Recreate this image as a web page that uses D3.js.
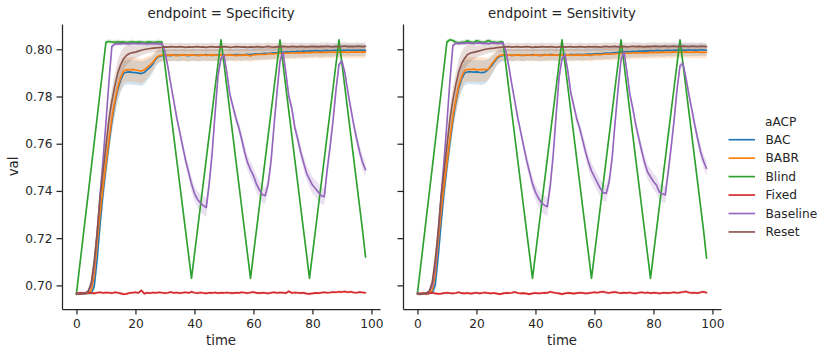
<!DOCTYPE html>
<html lang="en">
<head>
<meta charset="utf-8">
<title>aACP endpoints</title>
<script src="https://cdnjs.cloudflare.com/ajax/libs/d3/7.8.5/d3.min.js"></script>
<style>
  body { margin: 0; background: white; }
  svg { display: block; font-family: "DejaVu Sans", sans-serif; background: white; }
  .axis path, .axis line { stroke: #262626; stroke-width: 1.25; }
  .axis text { fill: #262626; font-size: 12.2px; font-family: "DejaVu Sans", sans-serif; }
  .label { fill: #262626; font-size: 13.3px; }
  .legend text { fill: #262626; font-size: 12.2px; }
</style>
</head>
<body>
<script>
// categories, ticks
var aACP = ["BAC", "BABR", "Blind", "Fixed", "Baseline", "Reset"];
var colors = ["#1f77b4", "#ff7f0e", "#2ca02c", "#d62728", "#9467bd", "#8c564b"];
var endpoints = ["Specificity", "Sensitivity"];
var time = d3.range(0, 99); // time steps 0..98
var xTicks = [0, 20, 40, 60, 80, 100];
var yTicks = [0.70, 0.72, 0.74, 0.76, 0.78, 0.80];

// ---- endpoint = Specificity ----
var specBAC = [
  0.6965,0.6963,0.6964,0.6965,0.6966,0.6968,0.6995,0.7110,0.7260,0.7390,
  0.7500,0.7600,0.7695,0.7770,0.7830,0.7870,0.7898,0.7903,0.7904,0.7902,
  0.7901,0.7899,0.7897,0.7902,0.7914,0.7924,0.7940,0.7960,0.7970,0.7973,
  0.7974,0.7975,0.7973,0.7976,0.7975,0.7974,0.7976,0.7975,0.7973,0.7975,
  0.7976,0.7975,0.7974,0.7976,0.7977,0.7975,0.7974,0.7976,0.7975,0.7977,
  0.7976,0.7975,0.7977,0.7976,0.7978,0.7977,0.7976,0.7978,0.7979,0.7978,
  0.7980,0.7981,0.7980,0.7982,0.7983,0.7982,0.7984,0.7985,0.7986,0.7988,
  0.7987,0.7989,0.7988,0.7990,0.7989,0.7991,0.7990,0.7992,0.7991,0.7993,
  0.7992,0.7994,0.7993,0.7992,0.7994,0.7995,0.7993,0.7995,0.7996,0.7994,
  0.7996,0.7995,0.7997,0.7995,0.7996,0.7995,0.7997,0.7996,0.7995];
var specBABR = [
  0.6965,0.6965,0.6964,0.6966,0.6966,0.6978,0.7040,0.7175,0.7305,0.7415,
  0.7515,0.7615,0.7710,0.7780,0.7840,0.7880,0.7908,0.7914,0.7913,0.7915,
  0.7912,0.7910,0.7907,0.7913,0.7924,0.7934,0.7946,0.7964,0.7973,0.7975,
  0.7975,0.7974,0.7976,0.7975,0.7973,0.7975,0.7976,0.7974,0.7975,0.7976,
  0.7975,0.7973,0.7975,0.7976,0.7974,0.7975,0.7976,0.7975,0.7974,0.7976,
  0.7975,0.7974,0.7976,0.7975,0.7973,0.7975,0.7974,0.7976,0.7975,0.7972,
  0.7976,0.7977,0.7978,0.7979,0.7978,0.7980,0.7981,0.7980,0.7982,0.7984,
  0.7983,0.7984,0.7983,0.7985,0.7984,0.7985,0.7986,0.7985,0.7986,0.7987,
  0.7986,0.7988,0.7987,0.7986,0.7988,0.7987,0.7988,0.7989,0.7987,0.7988,
  0.7989,0.7988,0.7987,0.7989,0.7988,0.7989,0.7988,0.7989,0.7988];
var specBlind = [
  0.6965,0.7072,0.7178,0.7285,0.7390,0.7497,0.7603,0.7710,0.7817,0.7923,
  0.8030,0.8033,0.8031,0.8029,0.8032,0.8030,0.8031,0.8028,0.8030,0.8032,
  0.8029,0.8031,0.8030,0.8028,0.8030,0.8031,0.8029,0.8030,0.8032,0.8030,
  0.7930,0.7830,0.7730,0.7630,0.7530,0.7430,0.7330,0.7230,0.7130,0.7030,
  0.7131,0.7232,0.7333,0.7434,0.7535,0.7636,0.7737,0.7838,0.7939,0.8040,
  0.7939,0.7838,0.7737,0.7636,0.7535,0.7434,0.7333,0.7232,0.7131,0.7030,
  0.7131,0.7232,0.7333,0.7434,0.7535,0.7636,0.7737,0.7838,0.7939,0.8040,
  0.7939,0.7838,0.7737,0.7636,0.7535,0.7434,0.7333,0.7232,0.7131,0.7030,
  0.7131,0.7232,0.7333,0.7434,0.7535,0.7636,0.7737,0.7838,0.7939,0.8040,
  0.7939,0.7838,0.7737,0.7636,0.7535,0.7434,0.7333,0.7232,0.7120];
var specFixed = [
  0.6966,0.6968,0.6969,0.6967,0.6970,0.6968,0.6966,0.6969,0.6971,0.6968,
  0.6970,0.6969,0.6967,0.6971,0.6969,0.6966,0.6963,0.6964,0.6968,0.6969,
  0.6971,0.6968,0.6979,0.6965,0.6969,0.6967,0.6970,0.6968,0.6971,0.6969,
  0.6967,0.6969,0.6972,0.6968,0.6970,0.6967,0.6969,0.6971,0.6968,0.6973,
  0.6969,0.6967,0.6970,0.6968,0.6966,0.6969,0.6968,0.6970,0.6967,0.6969,
  0.6968,0.6970,0.6968,0.6967,0.6969,0.6968,0.6971,0.6969,0.6967,0.6970,
  0.6972,0.6968,0.6967,0.6969,0.6968,0.6966,0.6969,0.6971,0.6968,0.6970,
  0.6969,0.6967,0.6975,0.6968,0.6970,0.6969,0.6967,0.6969,0.6965,0.6964,
  0.6966,0.6968,0.6967,0.6969,0.6971,0.6969,0.6970,0.6972,0.6971,0.6973,
  0.6972,0.6974,0.6971,0.6973,0.6970,0.6969,0.6972,0.6970,0.6969];
var specBaseline = [
  0.6965,0.6964,0.6966,0.6968,0.6975,0.7000,0.7080,0.7220,0.7380,0.7530,
  0.7690,0.7860,0.8012,0.8022,0.8024,0.8023,0.8025,0.8024,0.8023,0.8025,
  0.8024,0.8023,0.8025,0.8024,0.8023,0.8024,0.8025,0.8024,0.8023,0.8024,
  0.7990,0.7925,0.7850,0.7780,0.7710,0.7650,0.7590,0.7530,0.7480,0.7430,
  0.7390,0.7365,0.7350,0.7338,0.7330,0.7430,0.7560,0.7730,0.7890,0.7962,
  0.7975,0.7900,0.7810,0.7760,0.7710,0.7670,0.7620,0.7565,0.7520,0.7490,
  0.7465,0.7430,0.7405,0.7385,0.7380,0.7430,0.7530,0.7680,0.7820,0.7950,
  0.7990,0.7900,0.7800,0.7750,0.7670,0.7620,0.7565,0.7520,0.7475,0.7450,
  0.7425,0.7410,0.7395,0.7380,0.7375,0.7490,0.7590,0.7700,0.7830,0.7935,
  0.7950,0.7900,0.7820,0.7750,0.7680,0.7620,0.7565,0.7520,0.7490];
var specReset = [
  0.6962,0.6963,0.6965,0.6966,0.6975,0.7010,0.7100,0.7220,0.7370,0.7480,
  0.7590,0.7700,0.7780,0.7845,0.7900,0.7935,0.7960,0.7975,0.7982,0.7986,
  0.7988,0.7992,0.7996,0.7999,0.8001,0.8003,0.8005,0.8006,0.8007,0.8008,
  0.8010,0.8009,0.8011,0.8010,0.8009,0.8011,0.8010,0.8008,0.8010,0.8009,
  0.8010,0.8011,0.8009,0.8010,0.8008,0.8010,0.8011,0.8009,0.8010,0.8009,
  0.8011,0.8010,0.8008,0.8009,0.8011,0.8010,0.8009,0.8010,0.8008,0.8010,
  0.8009,0.8011,0.8010,0.8009,0.8010,0.8012,0.8010,0.8009,0.8011,0.8010,
  0.8012,0.8011,0.8010,0.8012,0.8011,0.8010,0.8012,0.8011,0.8010,0.8011,
  0.8012,0.8011,0.8010,0.8012,0.8011,0.8013,0.8011,0.8010,0.8012,0.8011,
  0.8012,0.8014,0.8011,0.8012,0.8011,0.8013,0.8012,0.8011,0.8012];

// ---- endpoint = Sensitivity ----
var sensBAC = [
  0.6966,0.6964,0.6963,0.6965,0.6966,0.6970,0.7000,0.7120,0.7265,0.7395,
  0.7505,0.7605,0.7700,0.7775,0.7835,0.7875,0.7900,0.7904,0.7905,0.7903,
  0.7904,0.7902,0.7901,0.7904,0.7915,0.7928,0.7945,0.7962,0.7971,0.7974,
  0.7975,0.7976,0.7974,0.7975,0.7977,0.7975,0.7974,0.7976,0.7975,0.7977,
  0.7976,0.7974,0.7975,0.7977,0.7976,0.7978,0.7977,0.7975,0.7976,0.7978,
  0.7977,0.7976,0.7978,0.7977,0.7979,0.7978,0.7977,0.7979,0.7980,0.7979,
  0.7981,0.7982,0.7981,0.7983,0.7984,0.7983,0.7985,0.7986,0.7987,0.7989,
  0.7988,0.7990,0.7989,0.7991,0.7990,0.7992,0.7991,0.7993,0.7992,0.7994,
  0.7993,0.7995,0.7994,0.7993,0.7995,0.7996,0.7994,0.7996,0.7997,0.7995,
  0.7997,0.7996,0.7998,0.7996,0.7997,0.7996,0.7998,0.7997,0.7996];
var sensBABR = [
  0.6965,0.6966,0.6964,0.6965,0.6967,0.6980,0.7045,0.7180,0.7310,0.7420,
  0.7520,0.7620,0.7715,0.7785,0.7845,0.7885,0.7910,0.7915,0.7914,0.7916,
  0.7914,0.7913,0.7915,0.7914,0.7916,0.7935,0.7950,0.7966,0.7974,0.7976,
  0.7975,0.7976,0.7974,0.7975,0.7976,0.7974,0.7975,0.7977,0.7975,0.7974,
  0.7976,0.7975,0.7973,0.7975,0.7976,0.7974,0.7976,0.7975,0.7974,0.7976,
  0.7975,0.7976,0.7974,0.7975,0.7976,0.7975,0.7974,0.7976,0.7975,0.7974,
  0.7977,0.7978,0.7977,0.7979,0.7980,0.7979,0.7981,0.7980,0.7982,0.7983,
  0.7982,0.7984,0.7983,0.7984,0.7985,0.7984,0.7985,0.7986,0.7985,0.7987,
  0.7986,0.7987,0.7986,0.7988,0.7987,0.7988,0.7987,0.7989,0.7988,0.7987,
  0.7988,0.7989,0.7988,0.7987,0.7989,0.7988,0.7987,0.7988,0.7987];
var sensBlind = [
  0.6966,0.7072,0.7178,0.7285,0.7391,0.7497,0.7604,0.7710,0.7817,0.7923,
  0.8032,0.8040,0.8037,0.8030,0.8027,0.8029,0.8031,0.8036,0.8030,0.8028,
  0.8036,0.8033,0.8029,0.8031,0.8037,0.8032,0.8030,0.8028,0.8031,0.8030,
  0.7930,0.7830,0.7730,0.7630,0.7530,0.7430,0.7330,0.7230,0.7130,0.7030,
  0.7131,0.7232,0.7333,0.7434,0.7535,0.7636,0.7737,0.7838,0.7939,0.8040,
  0.7939,0.7838,0.7737,0.7636,0.7535,0.7434,0.7333,0.7232,0.7131,0.7030,
  0.7131,0.7232,0.7333,0.7434,0.7535,0.7636,0.7737,0.7838,0.7939,0.8040,
  0.7939,0.7838,0.7737,0.7636,0.7535,0.7434,0.7333,0.7232,0.7131,0.7030,
  0.7131,0.7232,0.7333,0.7434,0.7535,0.7636,0.7737,0.7838,0.7939,0.8040,
  0.7939,0.7838,0.7737,0.7636,0.7535,0.7434,0.7333,0.7232,0.7115];
var sensFixed = [
  0.6966,0.6965,0.6968,0.6964,0.6967,0.6969,0.6966,0.6964,0.6965,0.6967,
  0.6969,0.6967,0.6966,0.6968,0.6971,0.6967,0.6966,0.6968,0.6965,0.6967,
  0.6969,0.6966,0.6968,0.6970,0.6967,0.6966,0.6968,0.6965,0.6963,0.6966,
  0.6968,0.6967,0.6969,0.6972,0.6968,0.6966,0.6967,0.6965,0.6963,0.6966,
  0.6968,0.6966,0.6967,0.6969,0.6968,0.6973,0.6970,0.6968,0.6966,0.6963,
  0.6966,0.6968,0.6967,0.6965,0.6967,0.6969,0.6968,0.6966,0.6967,0.6969,
  0.6971,0.6969,0.6972,0.6973,0.6970,0.6968,0.6971,0.6972,0.6969,0.6967,
  0.6969,0.6968,0.6970,0.6967,0.6966,0.6969,0.6971,0.6968,0.6970,0.6967,
  0.6969,0.6968,0.6966,0.6968,0.6969,0.6967,0.6969,0.6971,0.6968,0.6970,
  0.6972,0.6974,0.6970,0.6968,0.6969,0.6967,0.6971,0.6973,0.6969];
var sensBaseline = [
  0.6966,0.6964,0.6965,0.6967,0.6974,0.6998,0.7075,0.7215,0.7375,0.7525,
  0.7690,0.7865,0.8015,0.8026,0.8024,0.8026,0.8025,0.8027,0.8026,0.8025,
  0.8026,0.8027,0.8025,0.8026,0.8024,0.8026,0.8027,0.8025,0.8026,0.8027,
  0.7990,0.7925,0.7850,0.7780,0.7710,0.7650,0.7590,0.7530,0.7480,0.7430,
  0.7395,0.7370,0.7350,0.7340,0.7333,0.7420,0.7550,0.7720,0.7880,0.7960,
  0.7978,0.7905,0.7815,0.7760,0.7705,0.7665,0.7615,0.7565,0.7520,0.7485,
  0.7460,0.7435,0.7410,0.7392,0.7390,0.7440,0.7540,0.7690,0.7830,0.7955,
  0.7992,0.7905,0.7810,0.7750,0.7680,0.7625,0.7570,0.7520,0.7480,0.7460,
  0.7440,0.7425,0.7395,0.7388,0.7383,0.7480,0.7585,0.7700,0.7830,0.7930,
  0.7940,0.7880,0.7810,0.7745,0.7680,0.7620,0.7565,0.7525,0.7495];
var sensReset = [
  0.6963,0.6962,0.6965,0.6967,0.6976,0.7012,0.7105,0.7225,0.7372,0.7482,
  0.7592,0.7702,0.7785,0.7850,0.7905,0.7940,0.7962,0.7978,0.7984,0.7987,
  0.7990,0.7993,0.7997,0.8000,0.8002,0.8004,0.8005,0.8007,0.8008,0.8009,
  0.8010,0.8011,0.8009,0.8010,0.8011,0.8009,0.8010,0.8011,0.8010,0.8008,
  0.8010,0.8009,0.8011,0.8010,0.8009,0.8011,0.8010,0.8008,0.8010,0.8011,
  0.8009,0.8010,0.8011,0.8009,0.8010,0.8011,0.8010,0.8009,0.8011,0.8010,
  0.8011,0.8010,0.8009,0.8011,0.8012,0.8010,0.8011,0.8012,0.8010,0.8011,
  0.8012,0.8010,0.8011,0.8013,0.8011,0.8012,0.8011,0.8010,0.8012,0.8011,
  0.8013,0.8012,0.8011,0.8012,0.8013,0.8011,0.8012,0.8013,0.8011,0.8012,
  0.8013,0.8012,0.8011,0.8013,0.8012,0.8011,0.8013,0.8012,0.8011];

var ciBAC = [
  0.0003,0.0003,0.0003,0.0003,0.0004,0.0008,0.0030,0.0045,0.0050,0.0052,
  0.0052,0.0052,0.0052,0.0052,0.0052,0.0052,0.0052,0.0052,0.0052,0.0052,
  0.0052,0.0052,0.0052,0.0050,0.0045,0.0040,0.0035,0.0030,0.0027,0.0025,
  0.0025,0.0025,0.0025,0.0025,0.0025,0.0025,0.0025,0.0025,0.0025,0.0025,
  0.0025,0.0025,0.0025,0.0025,0.0025,0.0025,0.0025,0.0025,0.0025,0.0025,
  0.0025,0.0025,0.0025,0.0025,0.0025,0.0025,0.0025,0.0025,0.0025,0.0025,
  0.0025,0.0025,0.0025,0.0025,0.0025,0.0025,0.0025,0.0025,0.0025,0.0025,
  0.0025,0.0025,0.0025,0.0025,0.0025,0.0025,0.0025,0.0025,0.0025,0.0025,
  0.0025,0.0025,0.0025,0.0025,0.0025,0.0025,0.0025,0.0025,0.0025,0.0025,
  0.0025,0.0025,0.0025,0.0025,0.0025,0.0025,0.0025,0.0025,0.0025];
var ciBABR = [
  0.0003,0.0003,0.0003,0.0003,0.0004,0.0015,0.0040,0.0050,0.0052,0.0052,
  0.0052,0.0052,0.0052,0.0052,0.0052,0.0052,0.0052,0.0052,0.0052,0.0052,
  0.0052,0.0052,0.0052,0.0050,0.0045,0.0040,0.0035,0.0030,0.0027,0.0025,
  0.0025,0.0025,0.0025,0.0025,0.0025,0.0025,0.0025,0.0025,0.0025,0.0025,
  0.0025,0.0025,0.0025,0.0025,0.0025,0.0025,0.0025,0.0025,0.0025,0.0025,
  0.0025,0.0025,0.0025,0.0025,0.0025,0.0025,0.0025,0.0025,0.0025,0.0025,
  0.0025,0.0025,0.0025,0.0025,0.0025,0.0025,0.0025,0.0025,0.0025,0.0025,
  0.0025,0.0025,0.0025,0.0025,0.0025,0.0025,0.0025,0.0025,0.0025,0.0025,
  0.0025,0.0025,0.0025,0.0025,0.0025,0.0025,0.0025,0.0025,0.0025,0.0025,
  0.0025,0.0025,0.0025,0.0025,0.0025,0.0025,0.0025,0.0025,0.0025];
var ciBlind = [
  0.0004,0.0004,0.0004,0.0004,0.0004,0.0004,0.0004,0.0004,0.0004,0.0004,
  0.0009,0.0009,0.0009,0.0009,0.0009,0.0009,0.0009,0.0009,0.0009,0.0009,
  0.0009,0.0009,0.0009,0.0009,0.0009,0.0009,0.0009,0.0009,0.0009,0.0009,
  0.0005,0.0005,0.0005,0.0005,0.0005,0.0005,0.0005,0.0005,0.0005,0.0005,
  0.0005,0.0005,0.0005,0.0005,0.0005,0.0005,0.0005,0.0005,0.0005,0.0005,
  0.0005,0.0005,0.0005,0.0005,0.0005,0.0005,0.0005,0.0005,0.0005,0.0005,
  0.0005,0.0005,0.0005,0.0005,0.0005,0.0005,0.0005,0.0005,0.0005,0.0005,
  0.0005,0.0005,0.0005,0.0005,0.0005,0.0005,0.0005,0.0005,0.0005,0.0005,
  0.0005,0.0005,0.0005,0.0005,0.0005,0.0005,0.0005,0.0005,0.0005,0.0005,
  0.0005,0.0005,0.0005,0.0005,0.0005,0.0005,0.0005,0.0005,0.0005];
var ciFixed = [
  0.0006,0.0006,0.0006,0.0006,0.0006,0.0006,0.0006,0.0006,0.0006,0.0006,
  0.0006,0.0006,0.0006,0.0006,0.0006,0.0006,0.0006,0.0006,0.0006,0.0006,
  0.0006,0.0006,0.0006,0.0006,0.0006,0.0006,0.0006,0.0006,0.0006,0.0006,
  0.0006,0.0006,0.0006,0.0006,0.0006,0.0006,0.0006,0.0006,0.0006,0.0006,
  0.0006,0.0006,0.0006,0.0006,0.0006,0.0006,0.0006,0.0006,0.0006,0.0006,
  0.0006,0.0006,0.0006,0.0006,0.0006,0.0006,0.0006,0.0006,0.0006,0.0006,
  0.0006,0.0006,0.0006,0.0006,0.0006,0.0006,0.0006,0.0006,0.0006,0.0006,
  0.0006,0.0006,0.0006,0.0006,0.0006,0.0006,0.0006,0.0006,0.0006,0.0006,
  0.0006,0.0006,0.0006,0.0006,0.0006,0.0006,0.0006,0.0006,0.0006,0.0006,
  0.0006,0.0006,0.0006,0.0006,0.0006,0.0006,0.0006,0.0006,0.0006];
var ciBaseline = [
  0.0004,0.0004,0.0004,0.0004,0.0006,0.0010,0.0015,0.0018,0.0018,0.0018,
  0.0018,0.0015,0.0010,0.0008,0.0008,0.0008,0.0008,0.0008,0.0008,0.0008,
  0.0008,0.0008,0.0008,0.0008,0.0008,0.0008,0.0008,0.0008,0.0008,0.0008,
  0.0012,0.0015,0.0015,0.0018,0.0018,0.0020,0.0022,0.0025,0.0028,0.0030,
  0.0032,0.0035,0.0038,0.0040,0.0040,0.0035,0.0030,0.0025,0.0020,0.0015,
  0.0012,0.0015,0.0018,0.0020,0.0022,0.0025,0.0028,0.0030,0.0032,0.0034,
  0.0035,0.0036,0.0037,0.0036,0.0035,0.0032,0.0028,0.0022,0.0018,0.0015,
  0.0012,0.0015,0.0018,0.0020,0.0022,0.0025,0.0028,0.0030,0.0032,0.0034,
  0.0035,0.0036,0.0037,0.0036,0.0035,0.0032,0.0028,0.0022,0.0018,0.0015,
  0.0012,0.0015,0.0018,0.0020,0.0022,0.0025,0.0028,0.0030,0.0032];
var ciReset = [
  0.0003,0.0003,0.0003,0.0004,0.0008,0.0020,0.0035,0.0045,0.0050,0.0052,
  0.0052,0.0052,0.0052,0.0052,0.0052,0.0052,0.0048,0.0042,0.0036,0.0030,
  0.0026,0.0023,0.0021,0.0020,0.0019,0.0018,0.0018,0.0018,0.0018,0.0018,
  0.0017,0.0017,0.0017,0.0017,0.0017,0.0017,0.0017,0.0017,0.0017,0.0017,
  0.0017,0.0017,0.0017,0.0017,0.0017,0.0017,0.0017,0.0017,0.0017,0.0017,
  0.0017,0.0017,0.0017,0.0017,0.0017,0.0017,0.0017,0.0017,0.0017,0.0017,
  0.0017,0.0017,0.0017,0.0017,0.0017,0.0017,0.0017,0.0017,0.0017,0.0017,
  0.0017,0.0017,0.0017,0.0017,0.0017,0.0017,0.0017,0.0017,0.0017,0.0017,
  0.0017,0.0017,0.0017,0.0017,0.0017,0.0017,0.0017,0.0017,0.0017,0.0017,
  0.0017,0.0017,0.0017,0.0017,0.0017,0.0017,0.0017,0.0017,0.0017];

var cis = [ciBAC, ciBABR, ciBlind, ciFixed, ciBaseline, ciReset];
var panels = [
  {endpoint: endpoints[0], left: 62, right: 380, labels: true,
   series: [specBAC, specBABR, specBlind, specFixed, specBaseline, specReset]},
  {endpoint: endpoints[1], left: 403, right: 721, labels: false,
   series: [sensBAC, sensBABR, sensBlind, sensFixed, sensBaseline, sensReset]}
];

var svg = d3.select("body").append("svg")
  .attr("width", 831)
  .attr("height", 355);

// shared y scale
var y = d3.scaleLinear().domain([0.6900, 0.8107]).range([309, 24]);

panels.forEach(function(p) {
  var x = d3.scaleLinear().domain([-4.9, 102.9]).range([p.left, p.right]);
  var g = svg.append("g");

  // bands under the lines, like matplotlib zorder
  p.series.forEach(function(vals, i) {
    var ci = cis[i];
    var area = d3.area()
      .x(function(d, j) { return x(time[j]); })
      .y0(function(d, j) { return y(vals[j] - ci[j]); })
      .y1(function(d, j) { return y(vals[j] + ci[j]); });
    g.append("path")
      .datum(vals)
      .attr("d", area)
      .attr("fill", colors[i])
      .attr("fill-opacity", 0.2)
      .attr("stroke", "none");
  });

  p.series.forEach(function(vals, i) {
    var line = d3.line()
      .x(function(d, j) { return x(time[j]); })
      .y(function(d) { return y(d); });
    g.append("path")
      .datum(vals)
      .attr("d", line)
      .attr("fill", "none")
      .attr("stroke", colors[i])
      .attr("stroke-width", 1.65)
      .attr("stroke-linejoin", "round")
      .attr("stroke-linecap", "round");
  });

  var xAxis = d3.axisBottom(x).tickValues(xTicks)
    .tickSize(5.5).tickSizeOuter(0).tickPadding(4.5);
  g.append("g")
    .attr("class", "axis")
    .attr("transform", "translate(0,309)")
    .call(xAxis);

  var yAxis = d3.axisLeft(y).tickValues(yTicks)
    .tickFormat(p.labels ? d3.format(".2f") : "")
    .tickSize(5.5).tickSizeOuter(0).tickPadding(4);
  g.append("g")
    .attr("class", "axis")
    .attr("transform", "translate(" + p.left + ",0)")
    .call(yAxis);

  g.append("text")
    .attr("class", "label")
    .attr("x", (p.left + p.right) / 2)
    .attr("y", 17.5)
    .attr("text-anchor", "middle")
    .text("endpoint = " + p.endpoint);

  g.append("text")
    .attr("class", "label")
    .attr("x", (p.left + p.right) / 2)
    .attr("y", 344.5)
    .attr("text-anchor", "middle")
    .text("time");
});

svg.append("text")
  .attr("class", "label")
  .attr("transform", "translate(17.5,166.5) rotate(-90)")
  .attr("text-anchor", "middle")
  .text("val");

// legend
var legend = svg.append("g").attr("class", "legend");
legend.append("text")
  .attr("class", "label")
  .attr("x", 765)
  .attr("y", 126)
  .text("aACP");

aACP.forEach(function(name, i) {
  var cy = 139.7 + i * 18.45;
  legend.append("line")
    .attr("x1", 728.5).attr("x2", 755)
    .attr("y1", cy).attr("y2", cy)
    .attr("stroke", colors[i])
    .attr("stroke-width", 1.65);
  legend.append("text")
    .attr("x", 765.5)
    .attr("y", cy)
    .attr("dy", "0.35em")
    .text(name);
});
</script>
</body>
</html>
